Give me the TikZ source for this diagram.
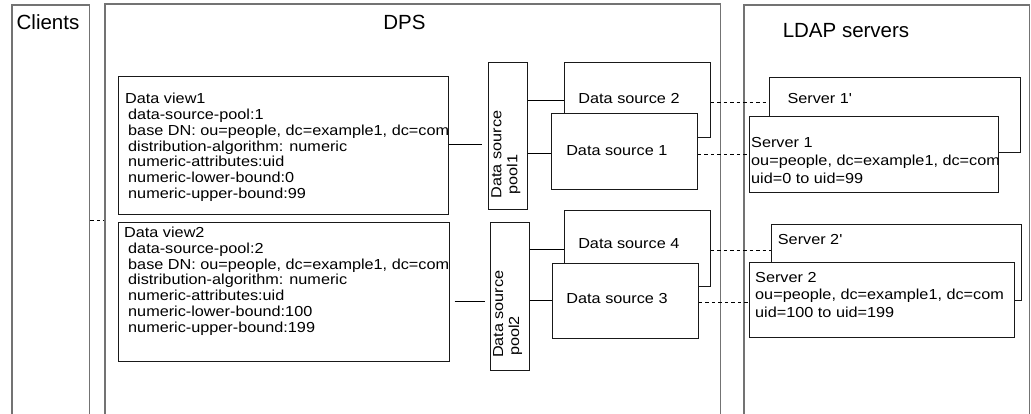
\documentclass[tikz,border=0pt]{standalone}
\usepackage{fontspec}
\setmainfont{Liberation Sans}[FakeStretch=1.12]
\newfontfamily\titlefont{Liberation Sans}
\newcommand{\straightq}{{\addfontfeature{Ligatures=TeXOff}'}}
\begin{document}
\begin{tikzpicture}[x=1pt,y=-1pt,
  container/.style={draw=black!55, line width=1.5pt, inner sep=0pt},
  box/.style={draw=black!90, fill=white, line width=1pt, inner sep=0pt},
  txt/.style={font=\fontsize{14.5}{15.8}\selectfont, inner sep=0pt, align=left},
  srvtxt/.style={font=\fontsize{14.5}{17.6}\selectfont, inner sep=0pt, align=left},
  pooltxt/.style={font=\fontsize{14.5}{16}\selectfont, inner sep=0pt, align=left, rotate=90},
  title/.style={font=\titlefont\fontsize{20.5}{24}\selectfont, inner sep=0pt},
  conn/.style={draw=black, line width=0.8pt},
  dconn/.style={draw=black, line width=0.8pt, dash pattern=on 3.5pt off 3pt}]
\useasboundingbox (0,0) rectangle (1031,414);
\fill[white] (0,0) rectangle (1031,414);
\clip (0,0) rectangle (1031,414);

% containers
\node[container, minimum width=77.5, minimum height=425] (clients) at (50.75,217.5) {};
\node[container, minimum width=615.7, minimum height=426] (dps) at (412.85,217) {};
\node[container, minimum width=285.5, minimum height=425] (ldap) at (886.75,217.5) {};
\node[title] (clientsT) at (48,22.5) {Clients};
\node[title] (dpsT) at (404.5,22.5) {DPS};
\node[title] (ldapT) at (846,30.5) {LDAP servers};

% data views
\node[box, minimum width=330, minimum height=138] (dv1) at (283,146) {};
\node[txt, anchor=north west] (dv1t) at (125,93) {Data view1\\
\hspace*{3pt}data-source-pool:1\\
\hspace*{3pt}base DN: ou=people, dc=example1, dc=com\\
\hspace*{3pt}distribution-algorithm: numeric\\
\hspace*{3pt}numeric-attributes:uid\\
\hspace*{3pt}numeric-lower-bound:0\\
\hspace*{3pt}numeric-upper-bound:99};
\node[box, minimum width=331, minimum height=138] (dv2) at (283.5,292) {};
\node[txt, anchor=north west] (dv2t) at (124,226.7) {Data view2\\
\hspace*{4pt}data-source-pool:2\\
\hspace*{4pt}base DN: ou=people, dc=example1, dc=com\\
\hspace*{4pt}distribution-algorithm: numeric\\
\hspace*{4pt}numeric-attributes:uid\\
\hspace*{4pt}numeric-lower-bound:100\\
\hspace*{4pt}numeric-upper-bound:199};

% pools
\node[box, minimum width=39, minimum height=147] (pool1) at (507.5,136.5) {};
\node[pooltxt] (pool1t) at (506,154.5) {Data source\\\hspace*{4pt}pool1};
\node[box, minimum width=39.3, minimum height=147.3] (pool2) at (509.65,296.35) {};
\node[pooltxt] (pool2t) at (507.7,314.2) {Data source\\\hspace*{2pt}pool2};

% data sources
\node[box, minimum width=146, minimum height=75] (ds2) at (637,99.8) {};
\node[txt] (ds2t) at (629,98.3) {Data source 2};
\node[box, minimum width=146, minimum height=76] (ds1) at (624.3,152) {};
\node[txt] (ds1t) at (616.8,150.7) {Data source 1};
\node[box, minimum width=146, minimum height=75.3] (ds4) at (637,248.35) {};
\node[txt] (ds4t) at (628.8,244) {Data source 4};
\node[box, minimum width=146.3, minimum height=75] (ds3) at (625.15,300.8) {};
\node[txt] (ds3t) at (617,298.3) {Data source 3};

% servers
\node[box, minimum width=251.4, minimum height=75.4] (s1p) at (895,115) {};
\node[srvtxt, anchor=north west] (s1pt) at (787.3,93) {Server 1\straightq};
\node[box, minimum width=249, minimum height=75.6] (s1) at (873.8,154.5) {};
\node[srvtxt, anchor=north west] (s1t) at (751,137.5) {Server 1\\ou=people, dc=example1, dc=com\\uid=0 to uid=99};
\node[box, minimum width=250.7, minimum height=75] (s2p) at (896.35,262.5) {};
\node[srvtxt, anchor=north west] (s2pt) at (777.7,233.8) {Server 2\straightq};
\node[box, minimum width=265, minimum height=75] (s2) at (881.5,300.2) {};
\node[srvtxt, anchor=north west] (s2t) at (755,272) {Server 2\\ou=people, dc=example1, dc=com\\uid=100 to uid=199};

% solid connectors
\draw[conn, shorten >=6pt] (dv1.east |- 0,144) -- (pool1.west |- 0,144);
\draw[conn, shorten <=5pt, shorten >=4.3pt] (dv2.east |- 0,301.7) -- (pool2.west |- 0,301.7);
\draw[conn] (pool1.east |- 0,100) -- (ds2.west |- 0,100);
\draw[conn] (pool1.east |- 0,153.3) -- (ds1.west |- 0,153.3);
\draw[conn] (pool2.east |- 0,249) -- (ds4.west |- 0,249);
\draw[conn] (pool2.east |- 0,300) -- (ds3.west |- 0,300);

% dashed connectors
\draw[dconn] (clients.east |- 0,220) -- (dps.west |- 0,220);
\draw[dconn] (ds2.east |- 0,102.7) -- (s1p.west |- 0,102.7);
\draw[dconn] (ds1.east |- 0,154) -- (s1.west |- 0,154);
\draw[dconn] (ds4.east |- 0,250.7) -- (s2p.west |- 0,250.7);
\draw[dconn] (ds3.east |- 0,302.3) -- (s2.west |- 0,302.3);
\end{tikzpicture}
\end{document}
